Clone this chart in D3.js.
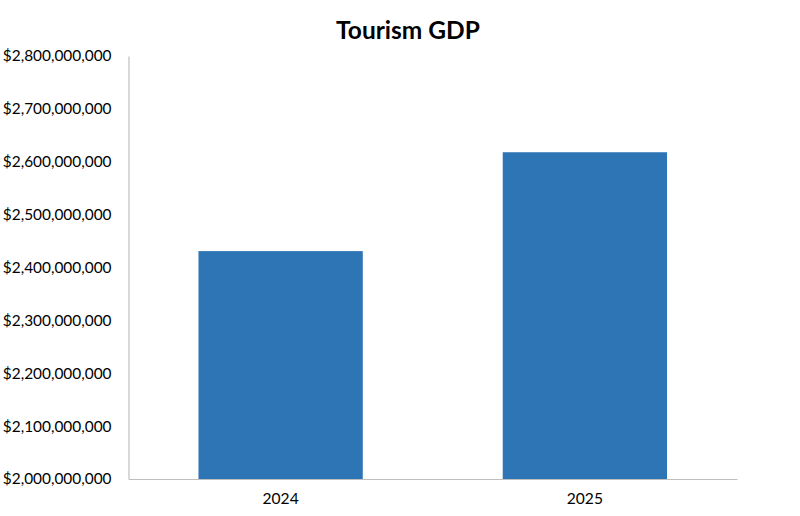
<!DOCTYPE html>
<html>
<head>
<meta charset="utf-8">
<script src="https://cdn.jsdelivr.net/npm/d3@7"></script>
<style>
  html, body { margin: 0; padding: 0; background: #fff; }
  svg { display: block; font-family: Lato, "Open Sans", sans-serif; }
</style>
</head>
<body>
<svg id="chart" width="800" height="516"></svg>
<script>
const categories = ["2024", "2025"];
const values = [2431000000, 2618000000];
const yTicks = [2000000000, 2100000000, 2200000000, 2300000000, 2400000000, 2500000000, 2600000000, 2700000000, 2800000000];
const title = "Tourism GDP";

const svg = d3.select("#chart");
const margin = { left: 128.5, right: 63, top: 56, bottom: 37 };
const W = 800, H = 516;

const x = d3.scaleBand()
  .domain(categories)
  .range([margin.left, W - margin.right])
  .paddingInner(0.46)
  .paddingOuter(0.23);

const y = d3.scaleLinear()
  .domain([2000000000, 2800000000])
  .range([H - margin.bottom, margin.top]);

const fmt = v => "$" + d3.format(",")(v);

// bars
svg.append("g").selectAll("rect")
  .data(categories.map((c, i) => ({ c, v: values[i] })))
  .join("rect")
  .attr("x", d => x(d.c))
  .attr("y", d => y(d.v))
  .attr("width", x.bandwidth())
  .attr("height", d => y(2000000000) - y(d.v))
  .attr("fill", "#2E75B6");

// y axis
const yAxis = svg.append("g")
  .attr("transform", `translate(${margin.left},0)`)
  .call(d3.axisLeft(y).tickValues(yTicks).tickFormat(fmt).tickSize(0).tickPadding(17));
yAxis.select(".domain").attr("stroke", "#bfbfbf").attr("stroke-width", 1.2);
yAxis.selectAll("text").attr("font-size", 15.4).attr("fill", "#000").attr("font-family", "Lato, sans-serif");

// x axis
const xAxis = svg.append("g")
  .attr("transform", `translate(0,${H - margin.bottom})`)
  .call(d3.axisBottom(x).tickSize(0).tickPadding(14));
xAxis.select(".domain").attr("stroke", "#bfbfbf").attr("stroke-width", 1.2);
xAxis.selectAll("text").attr("font-size", 15.6).attr("fill", "#000").attr("font-family", "Lato, sans-serif");

// title
svg.append("text")
  .attr("x", 408)
  .attr("y", 39)
  .attr("text-anchor", "middle")
  .attr("font-size", 24.5)
  .attr("font-weight", "bold")
  .attr("font-family", "Lato, sans-serif")
  .text(title);
</script>
</body>
</html>
